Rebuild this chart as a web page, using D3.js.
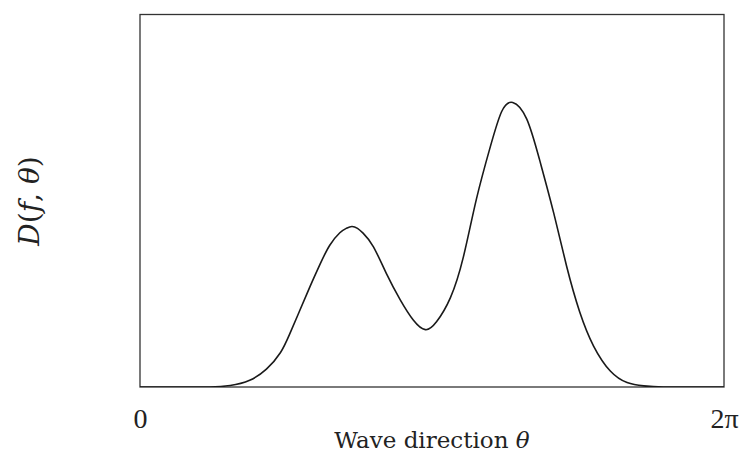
<!DOCTYPE html>
<html>
<head>
<meta charset="utf-8">
<script src="https://cdn.jsdelivr.net/npm/d3@7"></script>
<style>
  body { margin: 0; background: #fff; }
  text { fill: #222; }
</style>
</head>
<body>
<svg id="chart"></svg>
<script>
// // data (theta in radians, D normalised to the box height)
const theta = [0, 0.54, 0.75, 0.97, 1.18, 1.36, 1.51, 1.61, 1.72, 1.83, 1.94, 2.04, 2.15, 2.22, 2.28, 2.34,
    2.40, 2.51, 2.65, 2.80, 2.94, 3.07, 3.19, 3.34, 3.48, 3.62, 3.77, 3.89, 4.01, 4.16, 4.30,
    4.45, 4.59, 4.73, 4.88, 5.06, 5.24, 5.42, 5.63, 5.92, 6.283]
const dir = [0, 0, 0, 0.004, 0.018, 0.048, 0.092, 0.142, 0.206, 0.270, 0.331, 0.380, 0.414, 0.426, 0.431, 0.426,
    0.413, 0.377, 0.305, 0.234, 0.180, 0.154, 0.175, 0.240, 0.350, 0.505, 0.646, 0.739, 0.764, 0.720, 0.609,
    0.468, 0.324, 0.202, 0.110, 0.043, 0.012, 0.003, 0, 0, 0]
const xTicks = [0, 2 * Math.PI]
const xTickLabels = ["0", "2π"]
//
const width = 739
const height = 456
const margin = { top: 14.5, right: 15, bottom: 69, left: 140 }
const visWidth = width - margin.left - margin.right
const visHeight = height - margin.top - margin.bottom
//
var svg0 = d3.select('svg#chart').attr('width', width).attr('height', height)
var svg = svg0.append('g').attr('transform', 'translate(' + margin.left + ', ' + margin.top + ')')

var points = theta.map((t, i) => ({ t: t, d: dir[i] }))

var x = d3.scaleLinear()
    .domain([0, 2 * Math.PI])
    .range([0, visWidth])

var y = d3.scaleLinear()
    .domain([0, 1])
    .range([visHeight, 0])

// clip so the spline never dips under the frame
svg.append("clipPath")
    .attr("id", "plot-clip")
    .append("rect")
    .attr("width", visWidth)
    .attr("height", visHeight)

// frame
svg.append("rect")
    .attr("x", 0)
    .attr("y", 0)
    .attr("width", visWidth)
    .attr("height", visHeight)
    .attr("fill", "none")
    .attr("stroke", "#333")
    .attr("stroke-width", 1.3)

// x axis, only the two end labels
var xAxis = svg.append("g")
    .attr("transform", "translate(0," + visHeight + ")")
    .call(d3.axisBottom(x).tickValues(xTicks).tickSize(0).tickFormat((d, i) => xTickLabels[i]))

xAxis.select(".domain").remove()
xAxis.selectAll("text")
    .attr("dy", null)
    .attr("y", 41)
    .style("font-family", "'Liberation Serif', serif")
    .style("font-size", "28px")
    .style("fill", "#222")

// curve
var line = d3.line()
    .x(d => x(d.t))
    .y(d => y(d.d))
    .curve(d3.curveNatural)

svg.append("path")
    .datum(points)
    .attr("d", line)
    .attr("clip-path", "url(#plot-clip)")
    .attr("fill", "none")
    .attr("stroke", "#1a1a1a")
    .attr("stroke-width", 1.6)

// axis labels
var xl = svg.append("text")
    .attr("class", "x-label")
    .attr("text-anchor", "middle")
    .attr("x", visWidth / 2)
    .attr("y", visHeight + 61)
    .style("font-family", "'DejaVu Serif', serif")
    .style("font-size", "23px")
xl.append("tspan").text("Wave direction ")
xl.append("tspan").style("font-style", "italic").text("θ")

var yl = svg0.append("text")
    .attr("class", "y-label")
    .attr("text-anchor", "middle")
    .attr("transform", "translate(39, 201) rotate(-90)")
    .style("font-family", "'DejaVu Serif', serif")
    .style("font-size", "28px")
yl.append("tspan").style("font-style", "italic").text("D")
yl.append("tspan").text("(")
yl.append("tspan").style("font-style", "italic").text("f")
yl.append("tspan").text(", ")
yl.append("tspan").style("font-style", "italic").text("θ")
yl.append("tspan").text(")")
</script>
</body>
</html>
